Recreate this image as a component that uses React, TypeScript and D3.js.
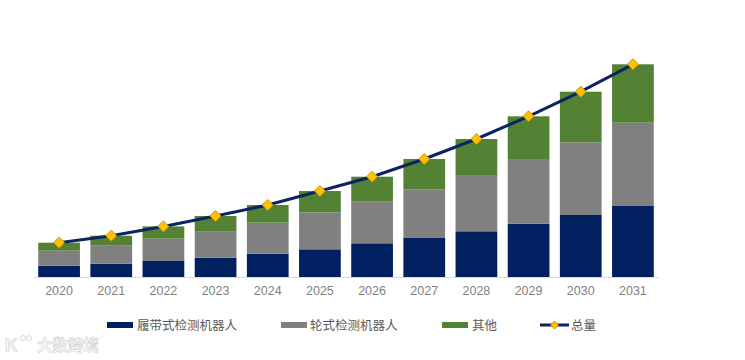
import React from "react";
import * as d3 from "d3";

const years = ["2020","2021","2022","2023","2024","2025","2026","2027","2028","2029","2030","2031"];
const crawler = [11.3, 13.3, 16, 19.3, 23.3, 27.7, 33.7, 39, 45.7, 53.3, 62, 71];
const wheeled = [15, 18, 22.3, 26, 31, 37, 41.6, 48.7, 56.3, 64.7, 72.7, 83.3];
const others = [8, 10, 12.3, 15.7, 17.7, 21.3, 25, 30.3, 36, 42.7, 50.6, 58.4];
const seriesNames = ["履带式检测机器人", "轮式检测机器人", "其他"];
const lineName = "总量";
const colors = ["#002060", "#808080", "#548235"];

const W = 745, H = 360;
const plotLeft = 33, plotRight = 659, baseY = 277;

export default function App() {
  const x = d3.scaleBand<string>().domain(years).range([plotLeft, plotRight]).paddingInner(0.2).paddingOuter(0.1);
  const y = d3.scaleLinear().domain([0, 250]).range([baseY, baseY - 250]);
  const rows = years.map((yr, i) => ({ year: yr, a: crawler[i], b: wheeled[i], c: others[i] }));
  const stack = d3.stack<any>().keys(["a", "b", "c"])(rows);
  const totals = rows.map(r => r.a + r.b + r.c);
  const line = d3.line<number>().x((_, i) => (x(years[i]) as number) + x.bandwidth() / 2).y(d => y(d));
  const font = "'Liberation Sans', Arial, sans-serif";
  const cjk = "'Noto Sans CJK SC', sans-serif";
  const diamond = (cx: number, cy: number, r: number) => `M${cx},${cy - r}L${cx + r},${cy}L${cx},${cy + r}L${cx - r},${cy}Z`;
  const legendY = 325;
  const legendItems = [
    { x: 107, tx: 137 },
    { x: 281, tx: 310 },
    { x: 442, tx: 472 },
  ];
  return (
    <svg width={W} height={H} style={{ position: "absolute", left: 0, top: 0 }}>
      <rect width={W} height={H} fill="#fff" />
      {stack.map((s, si) => (
        <g key={si} fill={colors[si]}>
          {s.map((d, i) => (
            <rect key={i} x={x(years[i])} width={x.bandwidth()} y={y(d[1])} height={y(d[0]) - y(d[1])} />
          ))}
        </g>
      ))}
      <line x1={plotLeft} x2={plotRight} y1={baseY + 0.5} y2={baseY + 0.5} stroke="#d9d9d9" strokeWidth={1} />
      {years.map(yr => (
        <text key={yr} x={(x(yr) as number) + x.bandwidth() / 2} y={295} textAnchor="middle" fontFamily={font} fontSize={12.5} fill="#7f7f7f">{yr}</text>
      ))}
      <path d={line(totals) || ""} fill="none" stroke="#0c2461" strokeWidth={3} />
      {totals.map((t, i) => (
        <path key={i} d={diamond((x(years[i]) as number) + x.bandwidth() / 2, y(t), 5.5)} fill="#ffc000" stroke="#c99700" strokeWidth={1} />
      ))}
      {legendItems.map((it, i) => (
        <g key={i}>
          <rect x={it.x} y={legendY - 3} width={26} height={6} fill={colors[i]} />
          <text x={it.tx} y={legendY + 4.5} fontFamily={cjk} fontSize={12.5} fill="#595959">{seriesNames[i]}</text>
        </g>
      ))}
      <g>
        <line x1={540} x2={569} y1={legendY} y2={legendY} stroke="#0c2461" strokeWidth={3} />
        <path d={diamond(554.5, legendY, 4)} fill="#ffc000" stroke="#c99700" strokeWidth={1} />
        <text x={571} y={legendY + 4.5} fontFamily={cjk} fontSize={12.5} fill="#595959">{lineName}</text>
      </g>
      <g opacity={0.55}>
        <text x={5} y={351} fontFamily={font} fontSize={17} fontWeight="bold" fill="none" stroke="#bbb" strokeWidth={1}>K</text>
        <circle cx={23} cy={338} r={2.5} fill="none" stroke="#bbb" />
        <circle cx={29} cy={338} r={2.5} fill="none" stroke="#bbb" />
        <text x={37} y={351} fontFamily={cjk} fontSize={15.5} fontWeight="bold" fill="none" stroke="#bbb" strokeWidth={0.8}>大数跨境</text>
      </g>
    </svg>
  );
}
